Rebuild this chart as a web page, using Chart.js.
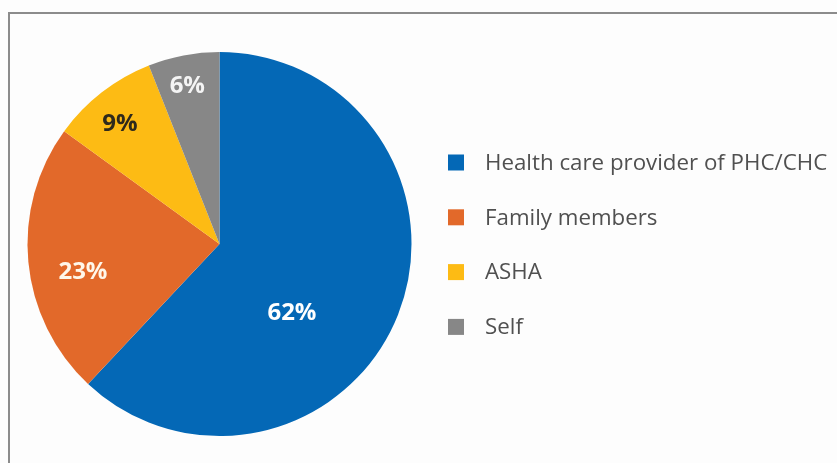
<!DOCTYPE html>
<html>
<head>
<meta charset="utf-8">
<script src="https://cdn.jsdelivr.net/npm/chart.js@4.4.1/dist/chart.umd.min.js"></script>
<style>
  html, body { margin: 0; padding: 0; background: #fdfdfd; }
  #wrap { position: relative; width: 837px; height: 463px; overflow: hidden; }
  #frame { position: absolute; left: 8px; top: 12px; width: 900px; height: 500px;
           border: 2px solid #8c8c8c; box-sizing: border-box; }
  canvas { position: absolute; left: 0; top: 0; }
</style>
</head>
<body>
<div id="wrap">
  <div id="frame"></div>
  <canvas id="c" width="837" height="463"></canvas>
</div>
<script>
// Who accompanied / informed the respondents (share of responses, %)
const categories = ['Health care provider of PHC/CHC', 'Family members', 'ASHA', 'Self'];
const shares = [62, 23, 9, 6];
const sliceColors = ['#0468b6', '#e2692a', '#fdbb14', '#878787'];
const labelColors = ['#ffffff', '#fff7ea', '#2f2a1c', '#f4f4f4'];

// Where each percentage label sits inside its slice:
// fraction of the radius, and fraction of the slice's angular span
const labelRadius = [0.518, 0.725, 0.816, 0.845];
const labelSpan = [0.597, 0.43, 0.45, 0.47];

const sliceLabels = {
  id: 'sliceLabels',
  afterDatasetsDraw(chart) {
    const ctx = chart.ctx;
    const meta = chart.getDatasetMeta(0);
    ctx.save();
    ctx.font = 'bold 24px "Open Sans", sans-serif';
    ctx.textAlign = 'center';
    ctx.textBaseline = 'middle';
    meta.data.forEach((arc, i) => {
      const p = arc.getProps(['x', 'y', 'startAngle', 'endAngle', 'outerRadius'], true);
      const a = p.startAngle + labelSpan[i] * (p.endAngle - p.startAngle);
      const r = labelRadius[i] * p.outerRadius;
      ctx.fillStyle = labelColors[i];
      ctx.fillText(chart.data.datasets[0].data[i] + '%', p.x + r * Math.cos(a), p.y + r * Math.sin(a) + 1);
    });
    ctx.restore();
  }
};

const sideLegend = {
  id: 'sideLegend',
  afterDraw(chart) {
    const ctx = chart.ctx;
    const x0 = 448, box = 16, gap = 21, top = 162.5, step = 54.8;
    ctx.save();
    ctx.font = '22.3px "Open Sans", sans-serif';
    ctx.textBaseline = 'middle';
    chart.data.labels.forEach((lab, i) => {
      const y = top + i * step;
      ctx.fillStyle = chart.data.datasets[0].backgroundColor[i];
      ctx.fillRect(x0, y - box / 2, box, box);
      ctx.fillStyle = '#505050';
      ctx.fillText(lab, x0 + box + gap, y + 1);
    });
    ctx.restore();
  }
};

new Chart(document.getElementById('c'), {
  type: 'pie',
  data: {
    labels: categories,
    datasets: [{
      data: shares,
      backgroundColor: sliceColors,
      borderWidth: 0
    }]
  },
  options: {
    responsive: false,
    animation: false,
    layout: { padding: { left: 27.5, top: 52, bottom: 27, right: 425.5 } },
    plugins: {
      legend: { display: false },
      tooltip: { enabled: false }
    }
  },
  plugins: [sliceLabels, sideLegend]
});
</script>
</body>
</html>
